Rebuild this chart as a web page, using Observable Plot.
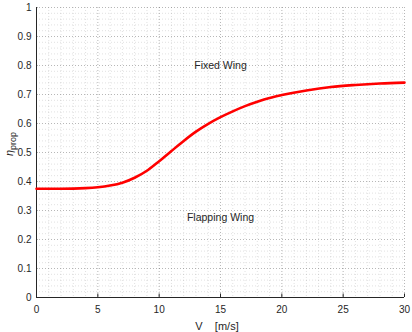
<!DOCTYPE html>
<html>
<head>
<meta charset="utf-8">
<script src="https://cdn.jsdelivr.net/npm/d3@7"></script>
<script src="https://cdn.jsdelivr.net/npm/@observablehq/plot@0.6"></script>
<style>
  html, body { margin: 0; padding: 0; background: #fff; }
  #chart svg { display: block; font-family: "Liberation Sans", Arial, Helvetica, sans-serif; }
</style>
</head>
<body>
<div id="chart"></div>
<script>
// Data
const speed = [0, 2, 4, 5, 6, 7, 8, 9, 10, 11, 12, 13, 14, 15, 16, 17, 18, 19, 20, 22, 24, 26, 28, 30];
const etaProp = [0.375, 0.375, 0.377, 0.38, 0.386, 0.396, 0.413, 0.437, 0.47, 0.505, 0.54, 0.572, 0.599, 0.622, 0.642, 0.66, 0.675, 0.688, 0.698, 0.714, 0.726, 0.733, 0.738, 0.741];
const xTicks = [0, 5, 10, 15, 20, 25, 30];
const yTicks = [0, 0.1, 0.2, 0.3, 0.4, 0.5, 0.6, 0.7, 0.8, 0.9, 1];
const xMinor = d3.range(0, 31, 1);
const yMinor = d3.range(0, 51).map(i => +(i * 0.02).toFixed(2));
const annotations = [
  { v: 15, eta: 0.80, label: "Fixed Wing" },
  { v: 15, eta: 0.275, label: "Flapping Wing" }
];
const xLabel = "V    [m/s]";

const curve = speed.map((v, i) => ({ v, eta: etaProp[i] }));
const axisColor = "#262626";

const chart = Plot.plot({
  width: 412,
  height: 332,
  marginLeft: 36,
  marginRight: 8,
  marginTop: 7,
  marginBottom: 35,
  style: { fontFamily: "Liberation Sans, Arial, sans-serif", fontSize: "10px", background: "#fff" },
  x: { domain: [0, 30], label: null },
  y: { domain: [0, 1], label: null },
  marks: [
    Plot.gridX(xMinor, { stroke: "#000", strokeOpacity: 0.12, strokeDasharray: "1,2" }),
    Plot.gridY(yMinor, { stroke: "#000", strokeOpacity: 0.12, strokeDasharray: "1,2" }),
    Plot.gridX(xTicks, { stroke: "#000", strokeOpacity: 0.18, strokeDasharray: "1,2" }),
    Plot.gridY(yTicks, { stroke: "#000", strokeOpacity: 0.18, strokeDasharray: "1,2" }),
    Plot.axisX(xTicks, { tickSize: 0, tickPadding: 8, color: axisColor, fontSize: 10, label: null, tickFormat: d => String(d) }),
    Plot.axisY(yTicks, { tickSize: 0, tickPadding: 5, color: axisColor, fontSize: 10, label: null, tickFormat: d => String(d) }),
    Plot.ruleX(xTicks, { y1: 0, y2: 0.012, stroke: axisColor }),
    Plot.ruleY(yTicks, { x1: 0, x2: 0.11, stroke: axisColor }),
    Plot.ruleY([0], { stroke: axisColor }),
    Plot.ruleX([0], { stroke: axisColor }),
    Plot.line(curve, { x: "v", y: "eta", stroke: "#ff0000", strokeWidth: 2.6, curve: "monotone-x" }),
    Plot.text(annotations, { x: "v", y: "eta", text: "label", fill: axisColor, fontSize: 10.5 })
  ]
});

document.getElementById("chart").appendChild(chart);

const svg = d3.select(chart);
svg.append("text")
  .attr("x", 217)
  .attr("y", 330)
  .attr("text-anchor", "middle")
  .attr("fill", axisColor)
  .attr("font-size", 11)
  .style("white-space", "pre")
  .attr("xml:space", "preserve")
  .text(xLabel);

const yl = svg.append("text")
  .attr("transform", "translate(13,144) rotate(-90)")
  .attr("text-anchor", "middle")
  .attr("fill", axisColor)
  .attr("font-size", 11);
yl.append("tspan").attr("font-style", "italic").text("η");
yl.append("tspan").attr("dy", 3).attr("font-size", 9).text("prop");
</script>
</body>
</html>
